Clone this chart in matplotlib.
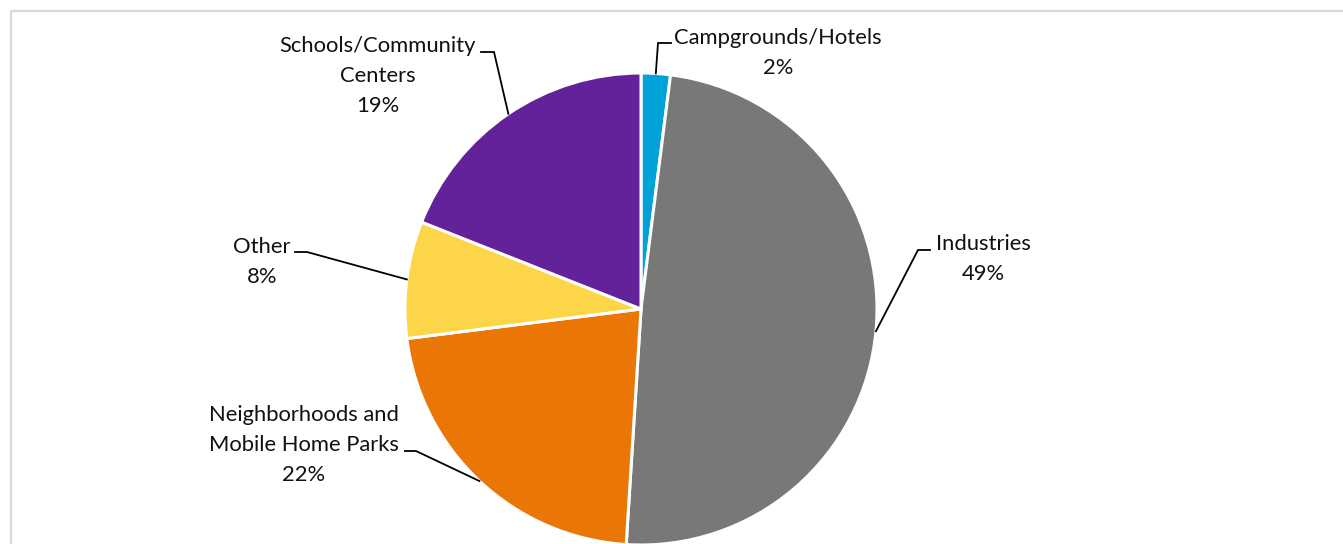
import matplotlib
matplotlib.use("Agg")
import matplotlib.pyplot as plt
import numpy as np

# Share of sites by category
categories = ["Campgrounds/Hotels", "Industries", "Neighborhoods and\nMobile Home Parks",
              "Other", "Schools/Community\nCenters"]
shares = [2, 49, 22, 8, 19]
colors = ["#00A3D7", "#787878", "#EA7605", "#FDD548", "#64229A"]

W, H = 1343, 544
DPI = 100
plt.rcParams['font.family'] = ['Lato', 'DejaVu Sans']

fig = plt.figure(figsize=(W / DPI, H / DPI), dpi=DPI)
ax = fig.add_axes([0, 0, 1, 1])

def py(y):
    # convert top-down pixel row to data y
    return H - y

cx, cy, R = 641, 309, 236
wedges, _ = ax.pie(shares, colors=colors, startangle=90, counterclock=False,
                   center=(cx, py(cy)), radius=R, frame=True,
                   wedgeprops=dict(edgecolor="white", linewidth=2.2))
ax.set_xlim(0, W)
ax.set_ylim(0, H)
ax.set_aspect('equal')
ax.axis('off')

# label layout: text block centre, elbow point, end of short horizontal tick
layout = [
    dict(text=(778, 53), elbow=(658, 43), tick=(671, 43)),
    dict(text=(983, 259), elbow=(918, 250), tick=(930, 250)),
    dict(text=(304, 445), elbow=(416, 451), tick=(405, 451)),
    dict(text=(262, 262), elbow=(307, 252), tick=(295, 252)),
    dict(text=(378, 76), elbow=(494, 52), tick=(481, 52)),
]

for w, name, val, lay in zip(wedges, categories, shares, layout):
    mid = np.deg2rad((w.theta1 + w.theta2) / 2)
    x0 = w.center[0] + w.r * np.cos(mid)
    y0 = w.center[1] + w.r * np.sin(mid)
    ex, ey = lay['elbow']
    tx, ty = lay['tick']
    ax.plot([x0, ex, tx], [y0, py(ey), py(ty)], color="black", lw=1.3,
            solid_joinstyle='miter', zorder=5)
    ax.text(lay['text'][0], py(lay['text'][1]), f"{name}\n{val}%",
            ha='center', va='center', multialignment='center',
            fontsize=15.8, linespacing=1.62, color="#111111")

# light chart border (top and left edges visible)
ax.plot([10.5, 10.5, W + 5], [-5, py(10.5), py(10.5)], color="#D9D9D9", lw=1.6,
        clip_on=False, zorder=0)

fig.savefig("out.png", dpi=DPI)
